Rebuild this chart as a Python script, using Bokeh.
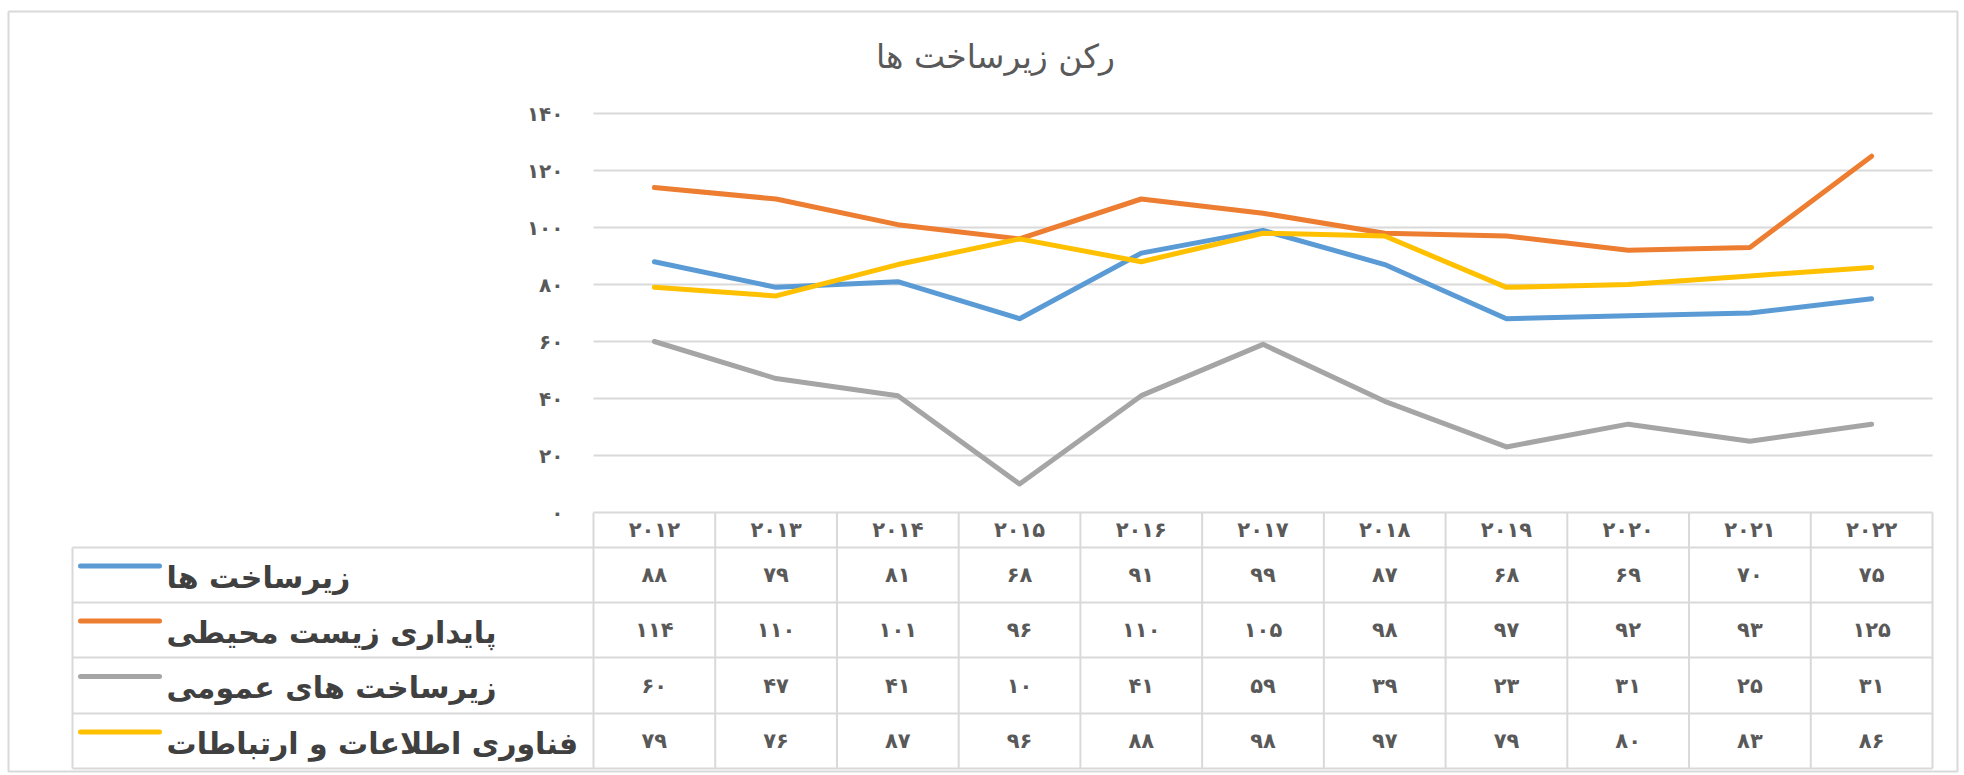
from bokeh.plotting import figure
from bokeh.models import Range1d
from bokeh.core.properties import value
from bokeh.embed import file_html
from bokeh.resources import INLINE

# ---------------- data ----------------
title_text = "رکن زیرساخت ها"
years = ["۲۰۱۲", "۲۰۱۳", "۲۰۱۴", "۲۰۱۵", "۲۰۱۶", "۲۰۱۷", "۲۰۱۸", "۲۰۱۹", "۲۰۲۰", "۲۰۲۱", "۲۰۲۲"]
series_names = ["زیرساخت ها", "پایداری زیست محیطی", "زیرساخت های عمومی", "فناوری اطلاعات و ارتباطات"]
infra = [88, 79, 81, 68, 91, 99, 87, 68, 69, 70, 75]
environment = [114, 110, 101, 96, 110, 105, 98, 97, 92, 93, 125]
public_infra = [60, 47, 41, 10, 41, 59, 39, 23, 31, 25, 31]
ict = [79, 76, 87, 96, 88, 98, 97, 79, 80, 83, 86]
y_ticks = [0, 20, 40, 60, 80, 100, 120, 140]

series_values = [infra, environment, public_infra, ict]
colors = ["#5B9BD5", "#ED7D31", "#A5A5A5", "#FFC000"]

FA = str.maketrans("0123456789", "۰۱۲۳۴۵۶۷۸۹")
def fa(n):
    return str(n).translate(FA)

# ---------------- layout (page pixels) ----------------
W, H = 1962, 773
PLOT_LEFT, PLOT_RIGHT = 593, 1932
Y0_PX, Y140_PX = 512, 113
TABLE_LEFT = 72
ROW_LINES_PX = [547, 602, 657, 713, 768]
n = len(years)
ppx = (PLOT_RIGHT - PLOT_LEFT) / n
ppy = (Y0_PX - Y140_PX) / 140.0

def xd(px):
    return (px - PLOT_LEFT) / ppx
def yd(py):
    return (Y0_PX - py) / ppy

p = figure(width=W, height=H, output_backend="svg", toolbar_location=None,
           x_range=Range1d(xd(0), xd(W)), y_range=Range1d(yd(H), yd(0)),
           min_border_left=0, min_border_right=0, min_border_top=0, min_border_bottom=0)
p.xaxis.visible = False
p.yaxis.visible = False
p.grid.visible = False
p.outline_line_color = None

FONT = value("DejaVu Sans")
GRID = "#d9d9d9"

# outer chart border
bx0, bx1, by0, by1 = xd(8), xd(1957), yd(11), yd(771)
p.multi_line(xs=[[bx0, bx1, bx1, bx0, bx0]], ys=[[by0, by0, by1, by1, by0]],
             line_color=GRID, line_width=2)

# title
p.text(x=[xd(995)], y=[yd(56)], text=[title_text], text_align="center", text_baseline="middle",
       text_font=FONT, text_font_size="33px", text_color="#595959")

# gridlines
gt = [t for t in y_ticks if t > 0]
p.segment(x0=[0] * len(gt), x1=[n] * len(gt), y0=gt, y1=gt, line_color=GRID, line_width=2)

# y tick labels
p.text(x=[xd(563)] * len(y_ticks), y=y_ticks, text=[fa(t) for t in y_ticks],
       text_align="right", text_baseline="middle", text_font=FONT,
       text_font_size="20px", text_color="#595959", text_font_style="bold")

# series lines
xs = [i + 0.5 for i in range(n)]
for vals, c in zip(series_values, colors):
    p.line(xs, vals, line_color=c, line_width=5, line_cap="round", line_join="round")

# data table
rows_y = [yd(v) for v in ROW_LINES_PX]
header_bottom = rows_y[0]
left = xd(TABLE_LEFT)
p.segment(x0=[0], x1=[n], y0=[0], y1=[0], line_color=GRID, line_width=2)
p.segment(x0=[left] * len(rows_y), x1=[n] * len(rows_y), y0=rows_y, y1=rows_y,
          line_color=GRID, line_width=2)
p.segment(x0=list(range(n + 1)), x1=list(range(n + 1)), y0=[0] * (n + 1),
          y1=[rows_y[-1]] * (n + 1), line_color=GRID, line_width=2)
p.segment(x0=[left], x1=[left], y0=[header_bottom], y1=[rows_y[-1]], line_color=GRID, line_width=2)

# header years
p.text(x=xs, y=[header_bottom / 2] * n, text=years, text_align="center", text_baseline="middle",
       text_font=FONT, text_font_size="21px", text_color="#595959", text_font_style="bold")

for r, (name, vals, c) in enumerate(zip(series_names, series_values, colors)):
    yc = (rows_y[r] + rows_y[r + 1]) / 2
    p.text(x=xs, y=[yc] * n, text=[fa(v) for v in vals], text_align="center", text_baseline="middle",
           text_font=FONT, text_font_size="21px", text_color="#595959", text_font_style="bold")
    p.segment(x0=[xd(80)], x1=[xd(159)], y0=[yc + 9 / ppy], y1=[yc + 9 / ppy],
              line_color=c, line_width=5, line_cap="round")
    p.text(x=[xd(166)], y=[yc - 2 / ppy], text=[name], text_align="left", text_baseline="middle",
           text_font=FONT, text_font_size="30px", text_color="#404040", text_font_style="bold")

open("out.html", "w").write(file_html(p, INLINE))
